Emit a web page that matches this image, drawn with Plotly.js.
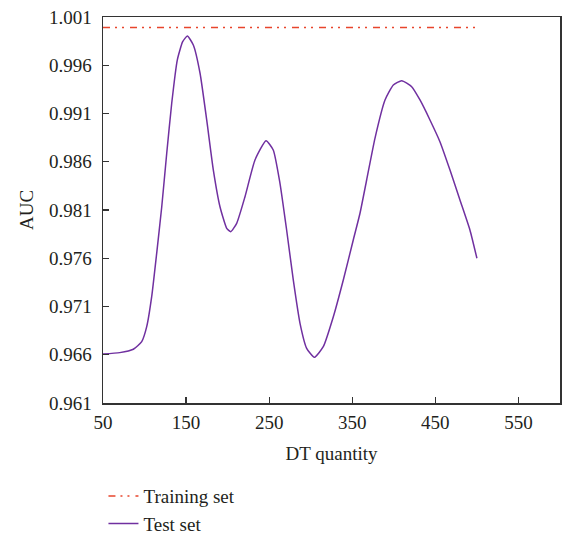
<!DOCTYPE html>
<html>
<head>
<meta charset="utf-8">
<script src="https://cdn.plot.ly/plotly-3.0.1.min.js"></script>
<style>html,body{margin:0;padding:0;background:#fff;}#chart{width:562px;height:536px;}</style>
</head>
<body>
<div id="chart"></div>
<script>
// Training set (flat line near 1)
const trainX = [50, 500];
const trainY = [0.9999, 0.9999];

// Test set values
const testX = [50, 70.2, 86.5, 96.6, 102.6, 108.6, 114.6, 120.7, 126.7, 132.7, 139.4, 145.9, 151.5, 158.7, 166.8, 174.8, 182.8, 190.8, 198.9, 203.7, 210.9, 220.9, 232.9, 246.2, 254.9, 263, 271, 279, 287.1, 295.1, 304.3, 315.1, 327.2, 339.2, 351.2, 359.3, 367.3, 377.3, 389.4, 399.4, 409.5, 421.5, 431.5, 443.5, 455.5, 467.6, 479.6, 491.6, 500];
const testY = [0.96608, 0.96622, 0.96657, 0.96736, 0.96891, 0.97202, 0.97651, 0.98134, 0.98688, 0.99206, 0.99654, 0.99844, 0.99903, 0.99810, 0.99517, 0.99033, 0.98514, 0.98134, 0.97910, 0.97875, 0.97962, 0.98238, 0.98618, 0.98818, 0.98722, 0.98377, 0.97893, 0.97375, 0.96926, 0.96667, 0.96573, 0.96683, 0.96994, 0.97375, 0.97789, 0.98066, 0.98411, 0.98843, 0.99240, 0.99395, 0.99440, 0.99378, 0.99240, 0.99033, 0.98808, 0.98514, 0.98204, 0.97893, 0.97600];

const xTicks = [50, 150, 250, 350, 450, 550];
const yTicks = [0.961, 0.966, 0.971, 0.976, 0.981, 0.986, 0.991, 0.996, 1.001];

const font = {family: '"Liberation Serif", "DejaVu Serif", serif', size: 19, color: '#231f20'};

const data = [
  {x: trainX, y: trainY, mode: 'lines', name: 'Training set',
   line: {color: '#e8452c', width: 1.5, dash: '7px,5px,2px,5px,2px,6px'}},
  {x: testX, y: testY, mode: 'lines', name: 'Test set',
   line: {color: '#7030a0', width: 1.5, shape: 'spline', smoothing: 0.5}}
];

const layout = {
  width: 562, height: 536,
  margin: {l: 103, r: 2, t: 17, b: 133, autoexpand: false},
  paper_bgcolor: '#fff', plot_bgcolor: '#fff',
  font: font,
  showlegend: true,
  legend: {x: 0.001, y: 0.11, yref: 'container', xanchor: 'left', yanchor: 'top', font: font,
           bgcolor: 'rgba(0,0,0,0)', tracegroupgap: 0},
  xaxis: {
    range: [50, 600], tickvals: xTicks, ticktext: xTicks.map(String),
    ticks: 'inside', ticklen: 6, tickcolor: '#333', tickwidth: 1.2,
    showline: true, linecolor: '#333', linewidth: 1.5, mirror: true,
    showgrid: false, zeroline: false, tickfont: font, ticklabelstandoff: 2,
    title: {text: 'DT quantity', font: font, standoff: 14}
  },
  yaxis: {
    range: [0.961, 1.001], tickvals: yTicks, ticktext: yTicks.map(v => v.toFixed(3)),
    ticks: 'inside', ticklen: 6, tickcolor: '#333', tickwidth: 1.2,
    showline: true, linecolor: '#333', linewidth: 1.5, mirror: true,
    showgrid: false, zeroline: false, tickfont: font, ticklabelstandoff: 6,
    title: {text: 'AUC', font: font, standoff: 10}
  }
};

Plotly.newPlot('chart', data, layout, {displayModeBar: false, staticPlot: true});
</script>
</body>
</html>
